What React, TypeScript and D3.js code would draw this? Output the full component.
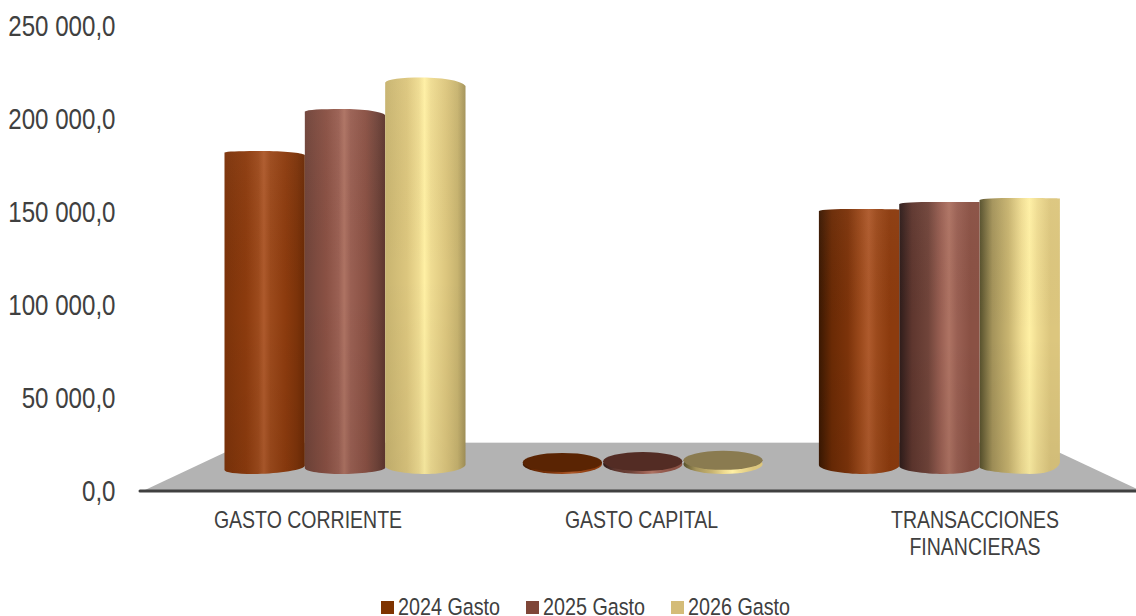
import React from "react";
import * as d3 from "d3";

const categories = ["GASTO CORRIENTE", "GASTO CAPITAL", "TRANSACCIONES FINANCIERAS"];
const categoryLines = [["GASTO CORRIENTE"], ["GASTO CAPITAL"], ["TRANSACCIONES", "FINANCIERAS"]];
const seriesNames = ["2024 Gasto", "2025 Gasto", "2026 Gasto"];
const gasto2024 = [164000, 600, 132600];
const gasto2025 = [186700, 1100, 136400];
const gasto2026 = [203700, 1700, 138500];
const seriesValues = [gasto2024, gasto2025, gasto2026];
const yTicks = [0, 50000, 100000, 150000, 200000, 250000];
const legendColors = ["#7f3300", "#7f4638", "#d4bc78"];
const capColors = ["#5a2403", "#532c24", "#8a7b50"];

const shades = [
  { dark: "#3a1802", edge: "#6a2a05", mid: "#7c330a", base: "#8c3b0e", soft: "#9c4a1c", light: "#ae5a2c" },
  { dark: "#2e1c1a", edge: "#5e362e", mid: "#70443a", base: "#8a5144", soft: "#9a6053", light: "#ae7363" },
  { dark: "#56502c", edge: "#a4935a", mid: "#c8b470", base: "#dcc67e", soft: "#efdc92", light: "#fff0a4" },
];

const W = 1136, H = 616;
const FONT = "'Liberation Sans',sans-serif";
const NARROW = 0.82;
const TEXT = "#404040";

const yAxis = d3.scaleLinear().domain([0, 250000]).range([493, 28]);
const yBar = d3.scaleLinear().domain([0, 250000]).range([454, -8]);
const xGroup = d3.scaleBand<string>().domain(categories).range([196.4, 1088]);
const xSeries = d3.scaleBand<string>().domain(seriesNames).range([-120.5, 120.5]);
const xLabel = d3.scalePoint<string>().domain(categories).range([308, 975]);
const fmt = (v: number) => d3.format(",.1f")(v).replace(/,/g, " ").replace(".", ",");

// perspective of each cylinder: [left top drop, right top drop, left base y, right base y, lowest point fraction]
const tilt = [
  [[1.5, 4, 470, 466, 0.36], [2.5, 6, 468, 468, 0.45], [5, 8.5, 466, 465, 0.5]],
  [[0, 0, 464, 464, 0.5], [0, 0, 464, 464, 0.5], [0, 0, 464, 464, 0.5]],
  [[2, 0.5, 465, 466, 0.55], [2, 0, 466, 467, 0.55], [2, 0.5, 467, 463, 0.62]],
];
const gradientStops = (g: number, s: number) => {
  const c = shades[s];
  return g === 0
    ? [[0, c.mid], [0.27, c.base], [0.42, c.soft], [0.49, c.light], [0.57, c.soft], [0.76, c.base], [0.9, c.mid], [1, c.edge]]
    : [[0, c.dark], [0.16, c.edge], [0.36, c.mid], [0.52, c.soft], [0.62, c.light], [0.72, c.soft], [0.88, c.base], [1, c.base]];
};

function cylinderPath(x0: number, x1: number, peak: number, t: number[]) {
  const [dl, dr, bl, br, f] = t;
  const w = x1 - x0;
  const tl = peak + dl, tr = peak + dr;
  const px = x0 + w * 0.45, lx = x0 + w * f, low = 474;
  return [
    `M${x0},${tl}`,
    `C${x0 + w * 0.03},${peak + dl * 0.3} ${px - w * 0.25},${peak} ${px},${peak}`,
    `C${px + w * 0.3},${peak} ${x1 - w * 0.04},${peak + dr * 0.45} ${x1},${tr}`,
    `L${x1},${br}`,
    `C${x1 - w * 0.03},${br + (low - br) * 0.6} ${lx + w * 0.22},${low} ${lx},${low}`,
    `C${lx - w * 0.22},${low} ${x0},${bl + (low - bl) * 0.6} ${x0},${bl}`,
    "Z",
  ].join(" ");
}

function Narrow({ x, y, size, anchor, children }: { x: number; y: number; size: number; anchor?: string; children: React.ReactNode }) {
  return (
    <text transform={`translate(${x},${y}) scale(${NARROW},1)`} textAnchor={anchor ?? "start"} fontSize={size} fill={TEXT} fontFamily={FONT}>
      {children}
    </text>
  );
}

export default function App() {
  const floor = d3.line()([[145, 490], [245, 443], [1039, 443], [1136, 488.5], [1136, 490]]) + "Z";
  const legendX = [381, 526, 671];
  return (
    <svg width={W} height={H} viewBox={`0 0 ${W} ${H}`} style={{ position: "absolute", left: 0, top: 0, background: "#fff" }}>
      <defs>
        {categories.map((_, g) => seriesNames.map((_, s) => (
          <linearGradient key={`${g}-${s}`} id={`cyl-${g}-${s}`} x1="0" x2="1" y1="0" y2="0">
            {gradientStops(g, s).map(([o, col]) => <stop key={o as number} offset={o as number} stopColor={col as string} />)}
          </linearGradient>
        )))}
        <linearGradient id="fade" x1="0" x2="0" y1="0" y2="1">
          <stop offset="0" stopColor="#fff" stopOpacity="0.03" />
          <stop offset="0.5" stopColor="#000" stopOpacity="0" />
          <stop offset="1" stopColor="#000" stopOpacity="0.05" />
        </linearGradient>
      </defs>

      <path d={floor} fill="#b3b3b3" />
      <line x1={245} x2={1039} y1={442.5} y2={442.5} stroke="#e6e6e6" strokeWidth={1} />
      <line x1={140} x2={1136} y1={491} y2={491} stroke={TEXT} strokeWidth={3} strokeLinecap="round" />

      {yTicks.map((t) => (
        <Narrow key={t} x={115.5} y={yAxis(t) + 8} size={29.4} anchor="end">{fmt(t)}</Narrow>
      ))}

      {categories.map((cat, g) => {
        const center = xGroup(cat)! + xGroup.bandwidth() / 2;
        const order = g === 2 ? [2, 1, 0] : [0, 1, 2];
        return (
          <g key={cat}>
            {order.map((s) => {
              const name = seriesNames[s];
              const x0 = center + xSeries(name)!;
              const x1 = x0 + xSeries.bandwidth();
              const peak = yBar(seriesValues[s][g]);
              const fill = `url(#cyl-${g}-${s})`;
              if (yBar(0) - peak < 30) {
                const cx = (x0 + x1) / 2, rx = (x1 - x0) / 2 - 0.5;
                return (
                  <g key={name}>
                    <ellipse cx={cx + 0.5} cy={464} rx={rx} ry={10} fill={fill} />
                    <ellipse cx={cx + 0.5} cy={peak + 9.5} rx={rx} ry={9.5} fill={capColors[s]} />
                  </g>
                );
              }
              const d = cylinderPath(x0, x1, peak, tilt[g][s]);
              return (
                <g key={name}>
                  <path d={d} fill={fill} />
                  <path d={d} fill="url(#fade)" />
                </g>
              );
            })}
            {categoryLines[g].map((ln, i) => (
              <Narrow key={ln} x={xLabel(cat)!} y={527.5 + i * 27} size={23.8} anchor="middle">{ln}</Narrow>
            ))}
          </g>
        );
      })}

      {seriesNames.map((name, s) => (
        <g key={name}>
          <rect x={legendX[s]} y={601} width={13} height={13} fill={legendColors[s]} />
          <Narrow x={legendX[s] + 17} y={614.5} size={24.1}>{name}</Narrow>
        </g>
      ))}
    </svg>
  );
}
